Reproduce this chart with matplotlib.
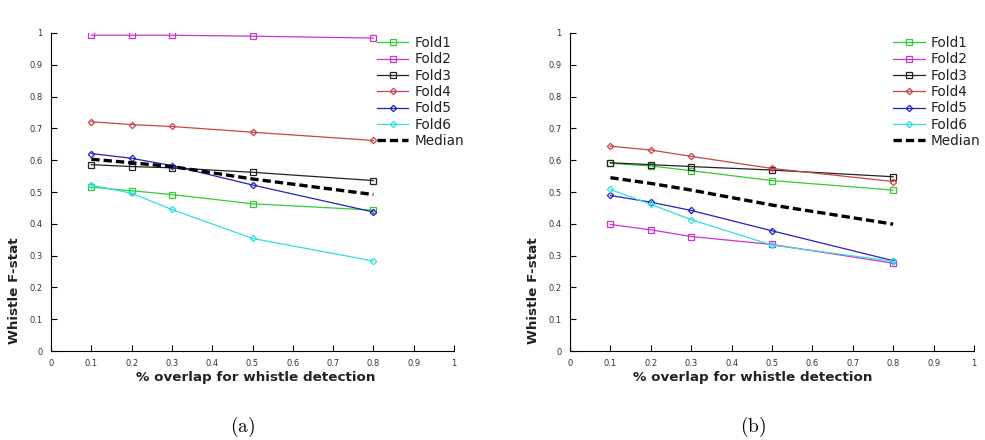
import numpy as np
import matplotlib.pyplot as plt

plt.rcParams['font.family'] = ['DejaVu Sans']
plt.rcParams['mathtext.fontset'] = 'cm'

overlap = [0.1, 0.2, 0.3, 0.5, 0.8]
fold_names = ['Fold1', 'Fold2', 'Fold3', 'Fold4', 'Fold5', 'Fold6']

# panel (a)
a_fold1 = [0.515, 0.504, 0.492, 0.463, 0.443]
a_fold2 = [0.993, 0.993, 0.993, 0.990, 0.984]
a_fold3 = [0.586, 0.580, 0.576, 0.562, 0.536]
a_fold4 = [0.721, 0.712, 0.706, 0.688, 0.662]
a_fold5 = [0.621, 0.606, 0.583, 0.522, 0.437]
a_fold6 = [0.522, 0.496, 0.445, 0.354, 0.283]
a_median = [0.603, 0.592, 0.580, 0.541, 0.492]

# panel (b)
b_fold1 = [0.590, 0.582, 0.567, 0.536, 0.506]
b_fold2 = [0.398, 0.381, 0.360, 0.335, 0.276]
b_fold3 = [0.592, 0.586, 0.580, 0.569, 0.548]
b_fold4 = [0.644, 0.632, 0.612, 0.574, 0.533]
b_fold5 = [0.489, 0.468, 0.442, 0.378, 0.284]
b_fold6 = [0.508, 0.461, 0.413, 0.333, 0.282]
b_median = [0.545, 0.527, 0.506, 0.459, 0.399]

colors = ['#33cc33', '#cc33cc', '#222222', '#cc4444', '#2222bb', '#33dddd']
markers = ['s', 's', 's', 'D', 'D', 'D']
msizes = [4.5, 4.5, 4.5, 3.2, 3.2, 3.2]

ticks = np.arange(0, 1.01, 0.1)
tick_labels = ['0', '0.1', '0.2', '0.3', '0.4', '0.5', '0.6', '0.7', '0.8', '0.9', '1']

fig = plt.figure(figsize=(9.85, 4.4), dpi=100)
ax_a = fig.add_axes([51 / 985, 89 / 440, 403 / 985, 318 / 440])
ax_b = fig.add_axes([570 / 985, 89 / 440, 404 / 985, 318 / 440])


def draw_panel(ax, folds, median, leg_x, xlab_x):
    for vals, name, c, m, ms in zip(folds, fold_names, colors, markers, msizes):
        ax.plot(overlap, vals, color=c, lw=0.9, marker=m, ms=ms,
                mfc='none', mec=c, mew=0.9, label=name)
    ax.plot(overlap, median, color='black', lw=2.4,
            linestyle=(0, (2.5, 1.2)), label='Median')
    ax.set_xlim(0, 1)
    ax.set_ylim(0, 1)
    ax.set_xticks(ticks)
    ax.set_xticklabels(tick_labels)
    ax.set_yticks(ticks)
    ax.set_yticklabels(tick_labels)
    ax.tick_params(direction='in', length=4, width=0.8, labelsize=6,
                   labelcolor='#333333', pad=6)
    for s in ['top', 'right']:
        ax.spines[s].set_visible(False)
    ax.set_xlabel('% overlap for whistle detection', fontsize=9.7,
                  fontweight='bold', color='#222222')
    ax.xaxis.set_label_coords(xlab_x, -0.062)
    ax.set_ylabel('Whistle F-stat', fontsize=9.7, fontweight='bold',
                  color='#222222')
    ax.yaxis.set_label_coords(-0.075, 0.19)
    leg = ax.legend(loc='upper left', bbox_to_anchor=(leg_x, 0.99),
                    frameon=False, fontsize=9.8, borderpad=0,
                    borderaxespad=0, labelspacing=0.17,
                    handlelength=2.3, handletextpad=0.45, numpoints=1)
    for t in leg.get_texts():
        t.set_color('#222222')


draw_panel(ax_a, [a_fold1, a_fold2, a_fold3, a_fold4, a_fold5, a_fold6],
           a_median, 0.809, 0.507)
draw_panel(ax_b, [b_fold1, b_fold2, b_fold3, b_fold4, b_fold5, b_fold6],
           b_median, 0.80, 0.452)

fig.text(243 / 985, 1 - 427 / 440, r'$\mathrm{(a)}$', fontsize=14,
         ha='center', va='center')
fig.text(753 / 985, 1 - 427 / 440, r'$\mathrm{(b)}$', fontsize=14,
         ha='center', va='center')

fig.savefig('out.png', dpi=100)
